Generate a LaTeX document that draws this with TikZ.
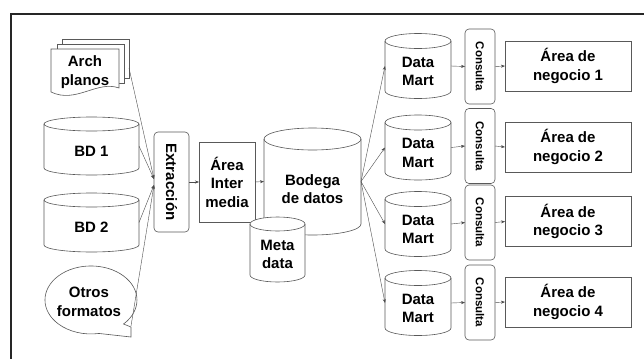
\documentclass[tikz,border=0pt]{standalone}
\usepackage{fontspec}
\setmainfont{Liberation Sans}
\usetikzlibrary{arrows.meta}
\tikzset{
  shp/.style={draw=black!65, line width=0.6pt, fill=white},
  txt/.style={font=\bfseries\fontsize{15}{18.5}\selectfont, align=center, inner sep=0pt},
  smalltxt/.style={font=\bfseries\fontsize{11.5}{13}\selectfont, inner sep=0pt},
  boxnode/.style={shp, inner sep=0pt, outer sep=0pt},
  anchorbox/.style={inner sep=0pt, outer sep=0pt},
  arr/.style={draw=black!70, line width=0.4pt, -{Stealth[length=4pt,width=3pt]}},
  frameline/.style={draw=black!85, line width=2pt},
}
\newcommand\mycyl[7]{%
  \begin{scope}[shift={(#2,-#3)}]
    \draw[shp] (-#4,#5-#6) -- (-#4,-#5+#6)
      arc[start angle=180,end angle=360,x radius=#4pt,y radius=#6pt]
      -- (#4,#5-#6)
      arc[start angle=0,end angle=180,x radius=#4pt,y radius=#6pt] -- cycle;
    \draw[shp,fill=none] (-#4,#5-#6)
      arc[start angle=180,end angle=360,x radius=#4pt,y radius=#6pt];
  \end{scope}
  \node[anchorbox, minimum width=2*#4pt, minimum height=2*#5pt] (#1) at (#2,-#3) {};
  \node[txt] (#1t) at (#2,-#3-0.7*#6) {#7};
}
\begin{document}
\begin{tikzpicture}[x=1pt,y=1pt]
\useasboundingbox (0,0) rectangle (644,-359);
\fill[white] (0,0) rectangle (644,-359);
\draw[frameline] (644,-14) -- (11,-14) -- (11,-359);

% Arch planos stack
\draw[shp] (62,-39) rectangle (129,-78);
\draw[shp] (57,-44) rectangle (124,-83);
\draw[shp] (51,-49) -- (119,-49) -- (119,-88)
  .. controls (97,-80) and (76,-104) .. (51,-92) -- cycle;
\node[anchorbox, minimum width=78, minimum height=58] (arch) at (90,-68) {};
\node[txt] (archt) at (85,-72) {Arch\\planos};

% BD cylinders
\mycyl{bdone}{91.5}{146}{47.5}{29}{7}{BD 1}
\mycyl{bdtwo}{91.5}{222.5}{47.5}{29.5}{7}{BD 2}

% Otros formatos bubble
\draw[shp] (123.5,-324) arc[start angle=-45,end angle=280,x radius=46pt,y radius=34pt]
  -- (131,-337) -- (131,-327) -- cycle;
\node[anchorbox, minimum width=92, minimum height=68] (otros) at (91,-300) {};
\node[txt] (otrost) at (89,-302) {Otros\\formatos};
\coordinate (otrostail) at (131,-326);

% Extraccion and Area intermedia
\node[boxnode, rounded corners=4pt, minimum width=35, minimum height=100] (ext) at (171.5,-182) {};
\node[txt, rotate=-90] (extt) at (171.5,-182) {Extracción};
\node[boxnode, minimum width=56, minimum height=80] (inter) at (227,-182) {};
\node[txt] (intert) at (227,-182) {Área\\Inter\\media};

% Bodega and Meta data
\mycyl{bodega}{312.5}{181.5}{48.5}{53.5}{11}{Bodega\\de datos}
\mycyl{meta}{277.5}{249.5}{27.5}{32.5}{7}{Meta\\data}

% Data marts, consultas, areas
\foreach \i/\dy/\cy/\ay in {1/66/66.5/66, 2/147.5/146/147, 3/224/222.5/221.5, 4/303/302.5/302}{
  \mycyl{dm\i}{418}{\dy}{33}{32.5}{7.5}{Data\\Mart}
  \node[boxnode, rounded corners=4pt, minimum width=30, minimum height=75] (cons\i) at (480,-\cy) {};
  \node[smalltxt, rotate=-90] (cons\i t) at (480,-\cy) {Consulta};
  \node[boxnode, minimum width=126, minimum height=50] (area\i) at (568,-\ay) {};
  \node[txt] (area\i t) at (568,-\ay) {Área de\\negocio \i};
  \draw[arr] (dm\i.east) -- (cons\i.west);
  \draw[arr] (cons\i.east) -- (area\i.west);
  \draw[arr] (bodega.east) -- (dm\i.west);
}

% Arrows into Extraccion
\draw[arr] (arch.east) -- ([yshift=3pt]ext.west);
\draw[arr] (bdone.east) -- ([yshift=3pt]ext.west);
\draw[arr] (bdtwo.east) -- ([yshift=-3pt]ext.west);
\draw[arr] (otrostail) -- ([yshift=-3pt]ext.west);
\draw[arr] (ext.east) -- (inter.west);
\draw[arr] (inter.east) -- (bodega.west);
\end{tikzpicture}
\end{document}
